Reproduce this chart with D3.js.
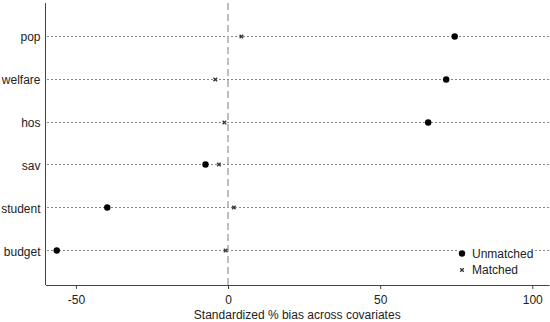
<!DOCTYPE html>
<html lang="en">
<head>
<meta charset="UTF-8">
<title>Standardized bias</title>
<style>
    body { margin: 0; background: #fff; }
    svg { display: block; font-family: "Liberation Sans", Arial, sans-serif; }
    .row { stroke: #111; stroke-width: 1; stroke-dasharray: 1,3; }
    .zero { stroke: #aaa; stroke-width: 1.5; stroke-dasharray: 7,4; }
    .axis path, .axis line { stroke: #444; }
    .axis text { font-size: 12px; fill: #222; font-family: "Liberation Sans", Arial, sans-serif; }
</style>
</head>
<body>
<svg width="550" height="322"></svg>
<script src="https://cdn.jsdelivr.net/npm/d3@7"></script>
<script>
    var variables = ["pop", "welfare", "hos", "sav", "student", "budget"];
    var unmatched = [74.5, 71.7, 65.8, -7.4, -39.7, -56.3];
    var matched = [4.4, -4.2, -1.2, -3.0, 1.9, -0.8];
    var xTicks = [-50, 0, 50, 100];

    var svg = d3.select("svg");
    var pLeft = 45.5, pRight = 549, pTop = 3, pBottom = 285;

    var x = d3.scaleLinear().domain([-60, 105.5]).range([pLeft, pRight]);
    var y = d3.scalePoint().domain(variables).range([pTop, pBottom]).padding(0.78);
    function yc(d) { return Math.round(y(d)) - 0.5; }

    // dotted row lines
    svg.selectAll(".row")
        .data(variables)
        .enter().append("line")
        .attr("class", "row")
        .attr("x1", pLeft + 2).attr("x2", pRight)
        .attr("y1", yc)
        .attr("y2", yc);

    // zero reference
    svg.append("line")
        .attr("class", "zero")
        .attr("x1", x(0)).attr("x2", x(0))
        .attr("y1", pTop).attr("y2", pBottom);

    // axes
    svg.append("g")
        .attr("class", "axis")
        .attr("transform", "translate(0," + pBottom + ")")
        .call(d3.axisBottom(x).tickValues(xTicks).tickSize(4).tickSizeOuter(0).tickPadding(6.5)
            .tickFormat(function (d) { return String(d); }));

    var yAxis = svg.append("g")
        .attr("class", "axis")
        .attr("transform", "translate(" + pLeft + ",0)")
        .call(d3.axisLeft(y).tickSize(0).tickPadding(5));
    yAxis.select(".domain").attr("d", "M0," + pTop + "V" + pBottom);
    yAxis.selectAll("text").style("font-size", "12px");

    svg.append("text")
        .attr("x", (pLeft + pRight) / 2)
        .attr("y", 319)
        .attr("text-anchor", "middle")
        .attr("font-size", "12px")
        .attr("fill", "#222")
        .text("Standardized % bias across covariates");

    // matched markers (x)
    function cross(cx, cy, s) {
        return "M" + (cx - s) + "," + (cy - s) + "L" + (cx + s) + "," + (cy + s) +
            "M" + (cx - s) + "," + (cy + s) + "L" + (cx + s) + "," + (cy - s);
    }

    svg.selectAll(".matched")
        .data(matched)
        .enter().append("path")
        .attr("class", "matched")
        .attr("d", function (d, i) { return cross(x(d), yc(variables[i]), 1.8); })
        .attr("stroke", "#333")
        .attr("stroke-width", 1.3)
        .attr("fill", "none");

    svg.selectAll(".unmatched")
        .data(unmatched)
        .enter().append("circle")
        .attr("class", "unmatched")
        .attr("cx", function (d) { return x(d); })
        .attr("cy", function (d, i) { return yc(variables[i]); })
        .attr("r", 3.2)
        .attr("fill", "#000");

    // legend
    var lg = svg.append("g").attr("transform", "translate(462,0)");
    lg.append("rect").attr("x", -5).attr("y", 245).attr("width", 76).attr("height", 34).attr("fill", "#fff");
    lg.append("circle").attr("cx", 0).attr("cy", 253.5).attr("r", 3.2).attr("fill", "#000");
    lg.append("path").attr("d", cross(0, 270, 1.8)).attr("stroke", "#333").attr("stroke-width", 1.3);
    lg.append("text").attr("x", 10).attr("y", 257.5).attr("font-size", "12px").attr("fill", "#222").text("Unmatched");
    lg.append("text").attr("x", 10).attr("y", 274).attr("font-size", "12px").attr("fill", "#222").text("Matched");
</script>
</body>
</html>
